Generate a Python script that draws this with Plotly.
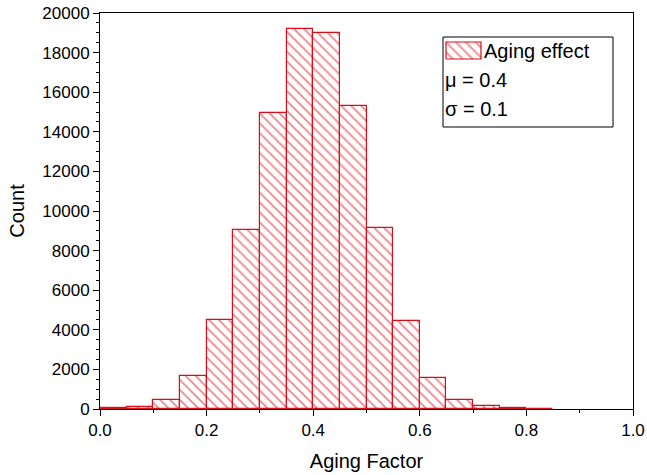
import plotly.graph_objects as go

bin_left = [0.00, 0.05, 0.10, 0.15, 0.20, 0.25, 0.30, 0.35, 0.40, 0.45,
            0.50, 0.55, 0.60, 0.65, 0.70, 0.75, 0.80]
counts = [30, 100, 480, 1670, 4500, 9040, 14950, 19190, 18990, 15280,
          9140, 4440, 1580, 460, 130, 35, 8]
bin_width = 0.05
series_name = "Aging effect"
stats_lines = ["μ = 0.4", "σ = 0.1"]
x_range = [0, 1]
y_range = [0, 20000]

red = "#dc0c18"
font_family = "Liberation Sans, Arial, sans-serif"
pattern = dict(shape="\\", fgcolor=red, bgcolor="white", size=7, solidity=0.25)

x_centers = [b + bin_width / 2 for b in bin_left]

L, R, T, B = 100, 14, 13, 66
W, H = 647, 475
pw, ph = W - L - R, H - T - B

def px_x(p):
    return (p - L) / pw

def px_y(p):
    return (H - B - p) / ph

def dx(p):
    return x_range[0] + px_x(p) * (x_range[1] - x_range[0])

def dy(p):
    return y_range[0] + px_y(p) * (y_range[1] - y_range[0])

fig = go.Figure()
fig.add_trace(go.Bar(
    x=x_centers, y=counts, width=bin_width, name=series_name,
    marker=dict(color="white", line=dict(color=red, width=1.2), pattern=pattern),
    showlegend=False,
))

# legend swatch (hatched patch)
sx0, sx1, sy0, sy1 = dx(446), dx(481), dy(59), dy(42)
fig.add_trace(go.Scatter(
    x=[sx0, sx1, sx1, sx0, sx0], y=[sy0, sy0, sy1, sy1, sy0],
    mode="lines", fill="toself", fillcolor="white", fillpattern=pattern,
    line=dict(color=red, width=1.2), showlegend=False, hoverinfo="skip",
))

fig.add_shape(type="rect", xref="paper", yref="paper",
              x0=px_x(443), x1=px_x(613), y0=px_y(127), y1=px_y(37),
              line=dict(color="black", width=1), fillcolor="rgba(0,0,0,0)")
fig.add_annotation(text=series_name, xref="paper", yref="paper",
                   x=px_x(482), y=px_y(51), xanchor="left", yanchor="middle",
                   showarrow=False,
                   font=dict(size=20, color="black", family=font_family))
for i, txt in enumerate(stats_lines):
    fig.add_annotation(text=txt, xref="paper", yref="paper",
                       x=px_x(443), y=px_y(80 + 29 * i), xanchor="left",
                       yanchor="middle", showarrow=False,
                       font=dict(size=20, color="black", family=font_family))

fig.update_layout(
    width=W, height=H,
    margin=dict(l=L, r=R, t=T, b=B, autoexpand=False),
    plot_bgcolor="white", paper_bgcolor="white",
    font=dict(family=font_family, size=17, color="black"),
    bargap=0,
    xaxis=dict(range=x_range, dtick=0.2, tickformat=".1f",
               title=dict(text="Aging Factor", font=dict(size=20), standoff=14),
               showline=True, linecolor="black", linewidth=1, mirror=True,
               ticks="outside", ticklen=6, tickcolor="black",
               minor=dict(dtick=0.1, ticks="outside", ticklen=3, tickcolor="black"),
               showgrid=False, zeroline=False, automargin=False),
    yaxis=dict(range=y_range, dtick=2000, tickformat="d",
               title=dict(text="Count", font=dict(size=20), standoff=12),
               showline=True, linecolor="black", linewidth=1, mirror=True,
               ticks="outside", ticklen=6, tickcolor="black",
               minor=dict(dtick=500, ticks="outside", ticklen=3, tickcolor="black"),
               showgrid=False, zeroline=False, automargin=False),
)

fig.write_html("out.html")
